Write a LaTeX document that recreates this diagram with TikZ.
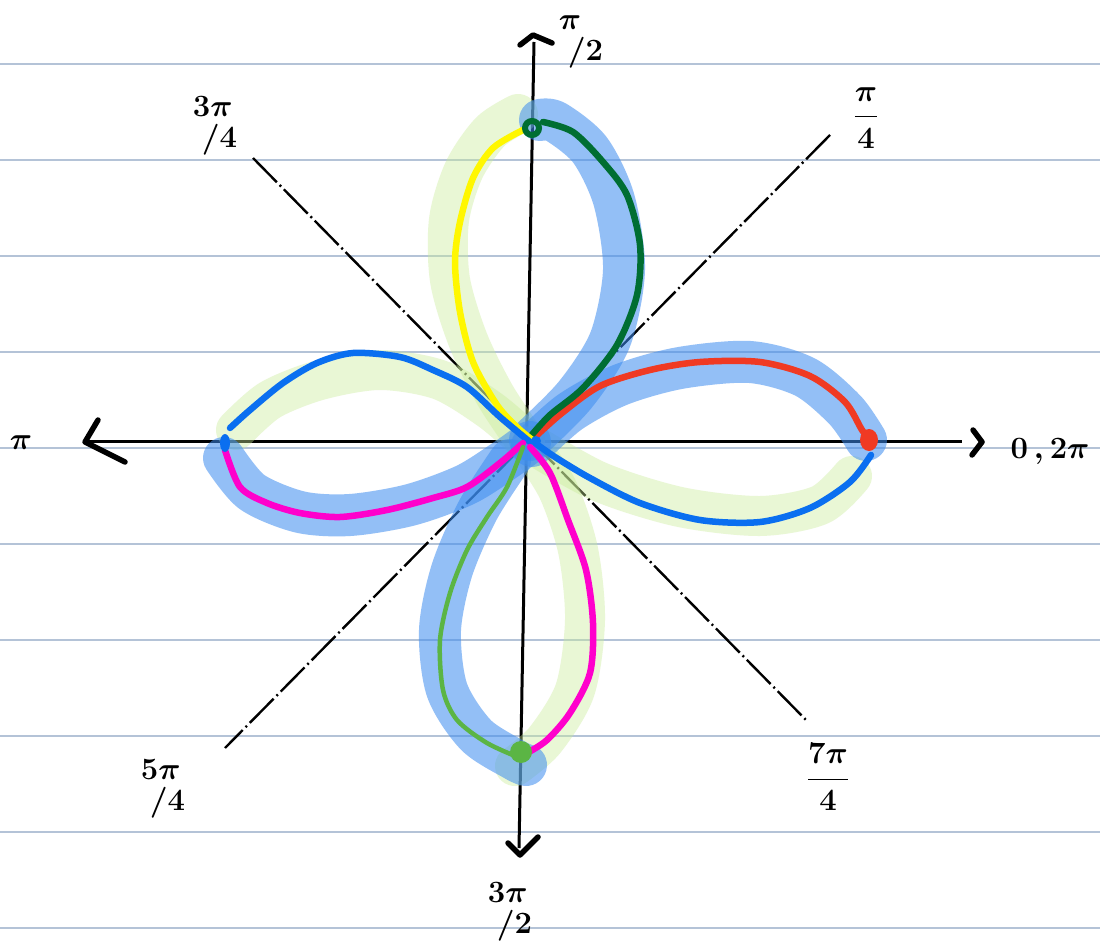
\RequirePackage{fix-cm}
\documentclass[tikz,border=0pt]{standalone}
\usepackage{amsmath}
\definecolor{ruleblue}{HTML}{B4C3D7}
\definecolor{hiblue}{HTML}{3C8CF0}
\definecolor{hilime}{HTML}{C8EB96}
\definecolor{penred}{HTML}{F03A23}
\definecolor{penblue}{HTML}{0A6FF0}
\definecolor{penyellow}{HTML}{FFF700}
\definecolor{pendkgreen}{HTML}{006E32}
\definecolor{penmagenta}{HTML}{FF00CC}
\definecolor{pengreen}{HTML}{5BB544}
\newcommand{\slfrac}[2]{\shortstack[l]{$#1$\\[5pt]\hspace{9pt}$/#2$}}
\tikzset{
  ruled/.style={ruleblue, line width=1.8pt},
  axisline/.style={black, line width=3pt},
  diagline/.style={black, line width=2.4pt, dash pattern=on 34pt off 4pt on 2pt off 4pt},
  chevron/.style={black, line width=5.5pt, line cap=round, line join=round},
  hlblue/.style={hiblue, opacity=0.55, line width=42pt, line cap=round, line join=round},
  hllime/.style={hilime, opacity=0.4, line width=40pt, line cap=round, line join=round},
  pen/.style={line width=6.5pt, line cap=round, line join=round},
  lbl/.style={font=\fontsize{31}{31}\selectfont\boldmath, inner sep=0pt}
}
\begin{document}
\begin{tikzpicture}[x=1pt, y=-1pt]
\useasboundingbox (0,0) rectangle (1100,949);
\fill[white] (0,0) rectangle (1100,949);
\foreach \y in {64,160,...,928}
  \draw[ruled] (0,\y) -- (1100,\y);

% axes
\coordinate (xl) at (88,441);
\coordinate (xr) at (962,441);
\coordinate (yt) at (534,42);
\coordinate (yb) at (519,848);
\draw[axisline] (xl) -- (xr);
\draw[axisline] (yt) -- (yb);
\draw[chevron] (98,420) -- (85,442) -- (125,462);
\draw[chevron] (973,430) -- (982,442) -- (972,455);
\draw[chevron] (520,45) -- (533,35) -- (552,43);
\draw[chevron] (508,843) -- (520,855) -- (538,837);

% diagonals
\coordinate (d1) at (830,135);
\coordinate (d5) at (225,748);
\coordinate (d3) at (253,158);
\coordinate (d7) at (808,722);
\draw[diagline] (d1) -- (d5);
\draw[diagline] (d3) -- (d7);

% highlights
\draw[hllime] plot[smooth] coordinates {(525,440) (495,395) (468,340) (450,280) (449,220) (464,170) (490,132) (518,114)};
\draw[hllime] plot[smooth] coordinates {(236,430) (270,400) (320,380) (380,370) (440,380) (490,410) (525,440)};
\draw[hllime] plot[smooth] coordinates {(530,446) (558,490) (578,550) (585,620) (575,690) (545,740) (515,766)};
\draw[hllime] plot[smooth] coordinates {(535,446) (600,482) (680,507) (760,516) (820,505) (852,476)};
\draw[hlblue] plot[smooth] coordinates {(530,440) (575,395) (610,340) (624,270) (614,200) (590,150) (556,122) (540,120)};
\draw[hlblue] plot[smooth] coordinates {(224,458) (252,492) (300,512) (350,515) (410,505) (465,485) (505,460) (530,442)};
\draw[hlblue] plot[smooth] coordinates {(510,460) (478,510) (452,570) (440,630) (447,690) (476,735) (515,760) (526,765)};
\draw[hlblue] plot[smooth] coordinates {(532,446) (570,412) (620,385) (680,368) (750,362) (805,377) (845,410) (866,440)};

% petals
\draw[pen, penred] plot[smooth] coordinates {(535,437) (562,413) (600,386) (650,370) (700,362) (760,362) (810,376) (845,402) (862,430) (870,440)};
\draw[pen, penblue] plot[smooth] coordinates {(871,455) (850,482) (810,508) (760,522) (700,520) (640,503) (590,478) (555,457) (535,443)};
\draw[pen, pendkgreen] plot[smooth] coordinates {(543,122) (573,132) (603,162) (627,195) (640,245) (637,295) (617,345) (583,388) (550,415) (530,437)};
\draw[pen, penyellow] plot[smooth] coordinates {(523,130) (493,148) (473,178) (460,222) (455,262) (460,312) (473,362) (497,405) (518,428) (535,442)};
\draw[pen, penblue] plot[smooth] coordinates {(230,428) (250,410) (283,383) (317,363) (353,353) (400,357) (433,370) (467,387) (500,417) (530,442)};
\draw[pen, penmagenta] plot[smooth] coordinates {(225,450) (240,487) (267,503) (300,513) (340,517) (387,510) (433,498) (467,487) (500,463) (523,443)};
\draw[pen, penmagenta] plot[smooth] coordinates {(530,447) (550,473) (568,520) (586,570) (593,623) (590,673) (570,713) (547,740) (527,753)};
\draw[line width=4.5pt, line cap=round, line join=round, pengreen] plot[smooth] coordinates {(523,447) (507,487) (487,517) (467,550) (450,593) (440,640) (443,690) (457,720) (487,743) (520,758)};

% dots
\fill[penred] (869,440) ellipse [x radius=9, y radius=11];
\draw[pendkgreen, line width=6pt] (532,128) circle [radius=7];
\fill[penblue] (225,443) ellipse [x radius=5, y radius=9];
\fill[pengreen] (521,752) circle [radius=11];
\fill[penblue] (536,441) circle [radius=5];

% labels
\node[lbl] (l1) at (581,42) {\slfrac{\pi}{2}};
\node[lbl] (l2) at (866,118) {$\displaystyle\frac{\pi}{4}$};
\node[lbl] (l3) at (215,126) {\slfrac{3\pi}{4}};
\node[lbl] (l4) at (21,443) {$\pi$};
\node[lbl] (l5) at (1050,452) {$0\,,2\pi$};
\node[lbl] (l6) at (163,789) {\slfrac{5\pi}{4}};
\node[lbl] (l7) at (828,777) {$\displaystyle\frac{7\pi}{4}$};
\node[lbl] (l8) at (510,912) {\slfrac{3\pi}{2}};
\end{tikzpicture}
\end{document}
